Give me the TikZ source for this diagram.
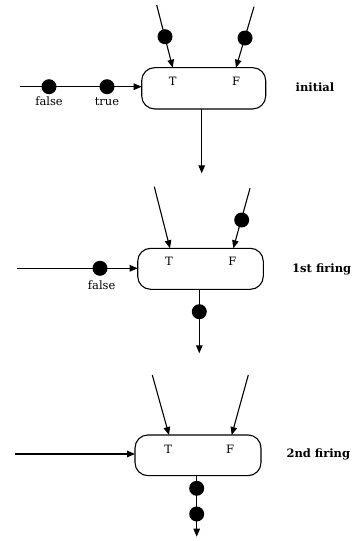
\documentclass[tikz,border=0pt]{standalone}
\usepackage{fontspec}
\setmainfont{DejaVu Serif}
\usetikzlibrary{arrows.meta}
\begin{document}
\begin{tikzpicture}[x=1pt,y=-1pt,
  every node/.style={inner sep=0pt,outer sep=0pt},
  actor/.style={draw,line width=1.1pt,rounded corners=13pt},
  token/.style={circle,fill=black,minimum size=15pt},
  conn/.style={line width=1.1pt},
  arr/.style={conn,-{Triangle[length=8pt,width=6.5pt]}},
  lbl/.style={font=\fontsize{11.5}{13}\selectfont},
  port/.style={font=\fontsize{11.5}{13}\selectfont},
  state/.style={font=\fontsize{11.5}{13}\selectfont\bfseries}]
\useasboundingbox (0,0) rectangle (357,541);
% ---------- panel 1: initial ----------
\node[actor,minimum width=124pt,minimum height=41.3pt] (b1) at (203.7,88.3) {};
\node[port] (t1) at (172.7,81) {T};
\node[port] (f1) at (236,81) {F};
\coordinate (a1s) at (156.7,5);   \coordinate (a1e) at (172.7,67.7);
\coordinate (c1s) at (254,6.7);   \coordinate (c1e) at (236,67.7);
\coordinate (l1s) at (20,86.7);   \coordinate (l1e) at (141.7,86.7);
\coordinate (o1s) at (201.7,109); \coordinate (o1e) at (201.7,173.3);
\draw[arr] (a1s) -- (a1e);
\draw[arr] (c1s) -- (c1e);
\draw[arr] (l1s) -- (l1e);
\draw[arr] (o1s) -- (o1e);
\node[token] (k1a) at (165,36.7) {};
\node[token] (k1b) at (245,38) {};
\node[token] (k1c) at (49,86.7) {};
\node[token] (k1d) at (107,86.7) {};
\node[lbl,anchor=base] (v1c) at (49,105) {false};
\node[lbl,anchor=base] (v1d) at (107,105) {true};
\node[state] (s1) at (315,87.3) {initial};
% ---------- panel 2: 1st firing ----------
\node[actor,minimum width=125.6pt,minimum height=41pt] (b2) at (200.5,268.8) {};
\node[port] (t2) at (169,261) {T};
\node[port] (f2) at (232.3,261) {F};
\coordinate (a2s) at (154.3,186.7); \coordinate (a2e) at (170,248.3);
\coordinate (c2s) at (250,188.3);   \coordinate (c2e) at (233.3,248.3);
\coordinate (l2s) at (16.7,268.3);  \coordinate (l2e) at (137.7,268.3);
\coordinate (o2s) at (199.3,289.3); \coordinate (o2e) at (199.3,353.3);
\draw[arr] (a2s) -- (a2e);
\draw[arr] (c2s) -- (c2e);
\draw[arr] (l2s) -- (l2e);
\draw[arr] (o2s) -- (o2e);
\node[token] (k2b) at (241.7,220) {};
\node[token] (k2c) at (100,268.3) {};
\node[token] (k2o) at (199.3,311.7) {};
\node[lbl,anchor=base] (v2c) at (101.7,289.5) {false};
\node[state] (s2) at (321.7,269.3) {1st firing};
% ---------- panel 3: 2nd firing ----------
\node[actor,minimum width=126pt,minimum height=40.7pt] (b3) at (198,455.3) {};
\node[port] (t3) at (168.3,449.3) {T};
\node[port] (f3) at (230,449.3) {F};
\coordinate (a3s) at (152.3,375);   \coordinate (a3e) at (169,435);
\coordinate (c3s) at (248.3,375);   \coordinate (c3e) at (231.7,435);
\coordinate (l3s) at (15,454);      \coordinate (l3e) at (135,454);
\coordinate (o3s) at (196.7,475.7); \coordinate (o3e) at (196.7,536.7);
\draw[arr] (a3s) -- (a3e);
\draw[arr] (c3s) -- (c3e);
\draw[arr] (l3s) -- (l3e);
\draw[arr] (o3s) -- (o3e);
\node[token] (k3a) at (196.7,488.3) {};
\node[token] (k3b) at (196.7,514) {};
\node[state] (s3) at (318.3,454) {2nd firing};
\end{tikzpicture}
\end{document}
